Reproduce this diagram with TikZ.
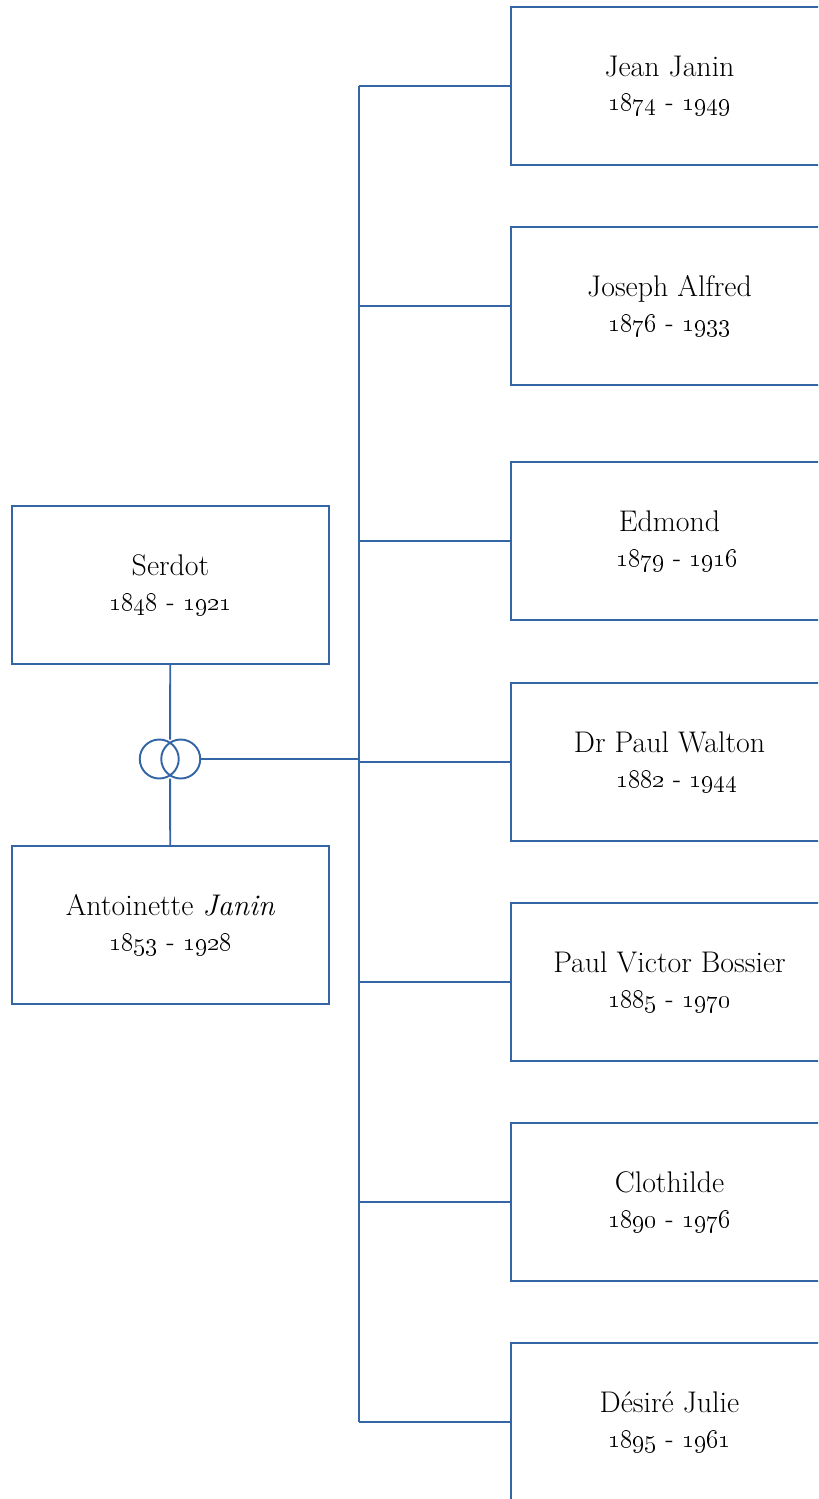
\documentclass[tikz,border=0pt]{standalone}
\usetikzlibrary{positioning}
\definecolor{famblue}{RGB}{52,101,164}
\tikzset{
  person/.style={draw=famblue, line width=1.1pt, minimum width=6.34cm,
    minimum height=3.16cm, align=center, inner sep=2pt,
    font=\fontsize{17}{19.5}\selectfont},
  link/.style={draw=famblue, line width=1.1pt},
  ring/.style={circle, draw=famblue, line width=1.1pt, minimum size=0.78cm, inner sep=0pt},
  wedding/.style={minimum width=1.21cm, minimum height=0.78cm, inner sep=0pt, outer sep=0pt}
}
\newcommand{\years}[2]{{\fontsize{14.6}{19.5}\selectfont\oldstylenums{#1} - \oldstylenums{#2}}}
\begin{document}
\begin{tikzpicture}
  \clip (0,0) rectangle (16.36,-29.98);

  % parents
  \node[person] (serdot) at (3.41,-11.70) {Serdot\\\years{1848}{1921}};
  \node[person] (antoinette) at (3.41,-18.50) {Antoinette \textit{Janin}\\\years{1853}{1928}};

  \node[wedding] (wed) at (3.40,-15.18) {};
  \node[ring] (ringa) at ([xshift=-0.215cm]wed.center) {};
  \node[ring] (ringb) at ([xshift=0.215cm]wed.center) {};

  % children
  \node[person] (jean) at (13.39,-1.72) {Jean Janin\\\years{1874}{1949}};
  \node[person] (joseph) at (13.39,-6.12) {Joseph Alfred\\\years{1876}{1933}};
  \node[person] (edmond) at (13.39,-10.82) {Edmond\\\hspace*{0.3cm}\years{1879}{1916}};
  \node[person] (paul) at (13.39,-15.24) {Dr Paul Walton\\\hspace*{0.3cm}\years{1882}{1944}};
  \node[person] (bossier) at (13.39,-19.64) {Paul Victor Bossier\\\years{1885}{1970}};
  \node[person] (clothilde) at (13.39,-24.04) {Clothilde\\\years{1890}{1976}};
  \node[person] (desire) at (13.39,-28.44) {Désiré Julie\\\years{1895}{1961}};

  \coordinate (trunk) at (7.18,-15.18);

  \path[link] (serdot) -- (wed);
  \path[link] (antoinette) -- (wed);
  \path[link] (wed) -- (trunk);

  \path[link] (jean.west -| trunk) -- (desire.west -| trunk);
  \path[link] (jean.west -| trunk) -- (jean);
  \path[link] (joseph.west -| trunk) -- (joseph);
  \path[link] (edmond.west -| trunk) -- (edmond);
  \path[link] (paul.west -| trunk) -- (paul);
  \path[link] (bossier.west -| trunk) -- (bossier);
  \path[link] (clothilde.west -| trunk) -- (clothilde);
  \path[link] (desire.west -| trunk) -- (desire);
\end{tikzpicture}
\end{document}
